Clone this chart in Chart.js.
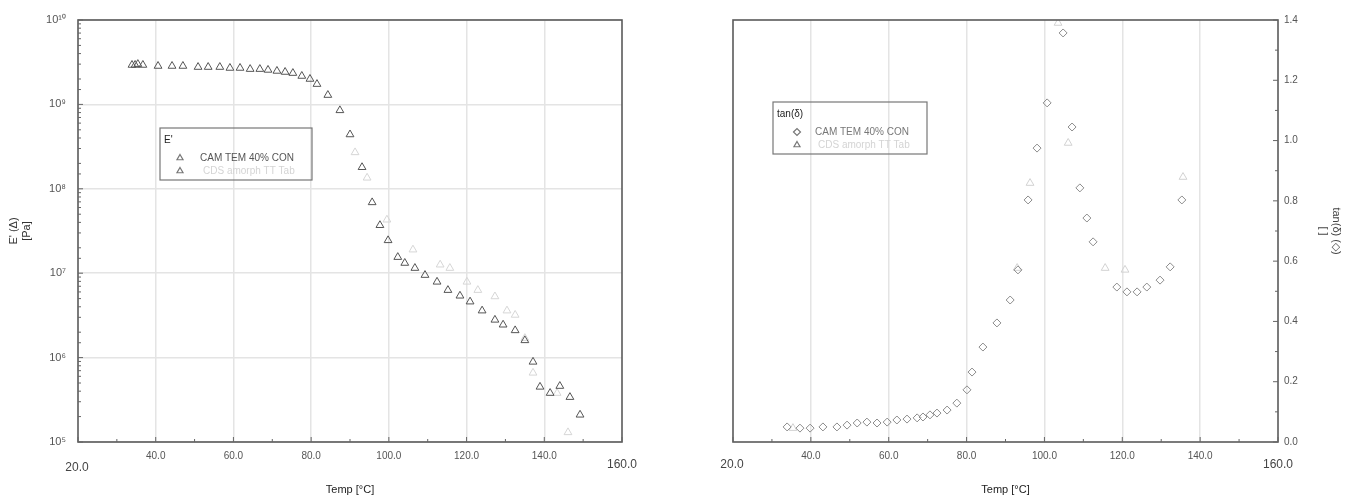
<!DOCTYPE html>
<html lang="en">
<head>
<meta charset="UTF-8">
<title>DMA E' and tan(delta)</title>
<script src="https://cdn.jsdelivr.net/npm/chart.js"></script>
<style>
    body { margin: 0; background: #fff; font-family: 'Liberation Sans', Arial, sans-serif; }
    .panel { position: absolute; top: 0; width: 674px; height: 500px; }
    #leftBox { left: 0; }
    #rightBox { left: 674px; }
</style>
</head>
<body>
<div class="panel" id="leftBox"><canvas id="modulusChart"></canvas></div>
<div class="panel" id="rightBox"><canvas id="tanChart"></canvas></div>

<script>
// storage modulus E' [Pa] vs temperature [°C]
const tempE = [33.9, 34.7, 35.4, 36.7, 40.6, 44.2, 47.0, 50.9, 53.5, 56.5, 59.1, 61.7, 64.3, 66.8, 68.9, 71.2,
    73.3, 75.3, 77.6, 79.7, 81.5, 84.3, 87.4, 90.0, 93.1, 95.7, 97.7, 99.8, 102.3, 104.1, 106.7, 109.3,
    112.4, 115.2, 118.3, 120.9, 124.0, 127.3, 129.4, 132.5, 135.0, 137.1, 138.9, 141.5, 144.0, 146.6, 149.2];
const eMain = [2.93e9, 2.93e9, 3.0e9, 2.93e9, 2.85e9, 2.85e9, 2.85e9, 2.77e9, 2.77e9, 2.77e9, 2.70e9, 2.70e9,
    2.62e9, 2.62e9, 2.56e9, 2.49e9, 2.42e9, 2.35e9, 2.17e9, 2.0e9, 1.74e9, 1.29e9, 8.5e8, 4.4e8,
    1.8e8, 6.9e7, 3.7e7, 2.45e7, 1.55e7, 1.32e7, 1.15e7, 9.5e6, 7.9e6, 6.3e6, 5.4e6, 4.6e6,
    3.6e6, 2.8e6, 2.45e6, 2.1e6, 1.6e6, 8.9e5, 4.5e5, 3.8e5, 4.6e5, 3.4e5, 2.1e5];
const tempE2 = [91.3, 94.4, 99.5, 106.2, 113.2, 115.7, 120.1, 122.9, 127.3, 130.4, 132.5, 135.0, 137.1, 143.3, 146.1];
const eFaint = [2.7e8, 1.35e8, 4.3e7, 1.9e7, 1.26e7, 1.15e7, 7.9e6, 6.3e6, 5.3e6, 3.6e6, 3.2e6, 1.7e6, 6.6e5, 3.8e5, 1.3e5];

// tan(delta) vs temperature
const tempTan = [33.9, 37.2, 39.8, 43.1, 46.7, 49.3, 51.9, 54.4, 57.0, 59.6, 62.1, 64.7, 67.3, 68.8, 70.6,
    72.4, 75.0, 77.5, 80.1, 81.4, 84.2, 87.8, 91.2, 93.2, 95.8, 98.1, 100.7, 104.8, 107.1, 109.1,
    110.9, 112.5, 118.6, 121.2, 123.8, 126.3, 129.7, 132.3, 135.3];
const tanMain = [0.050, 0.046, 0.046, 0.050, 0.050, 0.056, 0.063, 0.066, 0.063, 0.066, 0.073, 0.076, 0.080, 0.083, 0.090,
    0.096, 0.106, 0.129, 0.173, 0.232, 0.315, 0.395, 0.471, 0.571, 0.803, 0.975, 1.125, 1.357, 1.045, 0.843,
    0.743, 0.664, 0.514, 0.498, 0.498, 0.514, 0.537, 0.581, 0.803];
const tempTan2 = [35.4, 93.0, 96.3, 103.5, 106.1, 115.6, 120.7, 135.6];
const tanFaint = [0.046, 0.577, 0.859, 1.39, 0.992, 0.577, 0.571, 0.879];

const seriesName = 'CAM TEM 40% CON';
const faintName = 'CDS amorph TT Tab';
const xEndLabels = ['20.0', '160.0'];

const pts = (xs, ys) => xs.map((x, i) => ({ x, y: ys[i] }));
const SUP = { '0': '\u2070', '1': '\u00b9', '5': '\u2075', '6': '\u2076', '7': '\u2077', '8': '\u2078', '9': '\u2079' };
const isDecade = v => Math.abs(Math.log10(v) - Math.round(Math.log10(v))) < 1e-9;
const FONT = "'Liberation Sans', Arial, sans-serif";

// frame, inward tick marks, end labels and legend box
const decor = {
    id: 'decor',
    afterDraw(chart, args, o) {
        const { ctx, chartArea: a, scales } = chart;
        ctx.save();
        ctx.strokeStyle = '#5a5a5a';
        ctx.lineWidth = 1.6;
        ctx.strokeRect(a.left, a.top, a.right - a.left, a.bottom - a.top);

        ctx.lineWidth = 1;
        ctx.strokeStyle = '#666';
        ctx.beginPath();
        scales.x.ticks.forEach(t => {
            const px = scales.x.getPixelForValue(t.value);
            const len = t.value % 20 === 0 ? 5 : 3;
            ctx.moveTo(px, a.bottom);
            ctx.lineTo(px, a.bottom - len);
        });
        scales.y.ticks.forEach(t => {
            const py = scales.y.getPixelForValue(t.value);
            const major = o.logY ? isDecade(t.value) : Math.round(t.value * 10) % 2 === 0;
            const len = major ? 5 : 3;
            const x0 = o.logY ? a.left : a.right;
            ctx.moveTo(x0, py);
            ctx.lineTo(o.logY ? x0 + len : x0 - len, py);
        });
        ctx.stroke();

        // big end labels of the x axis
        ctx.fillStyle = '#444';
        ctx.font = '12px ' + FONT;
        ctx.textAlign = 'center';
        ctx.textBaseline = 'middle';
        ctx.fillText(xEndLabels[0], scales.x.getPixelForValue(20) - 1, o.endY0);
        ctx.fillText(xEndLabels[1], scales.x.getPixelForValue(160), 465);

        // legend
        const L = o.legend;
        ctx.strokeStyle = '#777';
        ctx.lineWidth = 1.2;
        ctx.strokeRect(L.x, L.y, L.w, L.h);
        ctx.textAlign = 'left';
        ctx.fillStyle = '#222';
        ctx.font = '10px ' + FONT;
        ctx.fillText(L.title, L.x + 4, L.y + 12);
        const mk = chart.data.datasets[0];
        const mk2 = chart.data.datasets[1];
        ctx.fillStyle = 'rgba(0,0,0,0)';
        Chart.helpers.drawPoint(ctx, { pointStyle: mk.pointStyle, radius: 3.5, borderWidth: 1, borderColor: mk.borderColor }, L.x + L.mx, L.y + 30);
        ctx.fillStyle = 'rgba(0,0,0,0)';
        Chart.helpers.drawPoint(ctx, { pointStyle: mk2.pointStyle, radius: 3.5, borderWidth: 1, borderColor: mk2.borderColor }, L.x + L.mx, L.y + 43);
        ctx.font = '10px ' + FONT;
        ctx.fillStyle = o.textColor;
        ctx.fillText(seriesName, L.x + L.tx, L.y + 30);
        ctx.fillStyle = '#d4d4d4';
        ctx.fillText(faintName, L.x + L.tx + 3, L.y + 43);
        ctx.restore();
    }
};

const tickFont = { family: FONT, size: 10 };
const titleFont = { family: FONT, size: 11 };

function xScale() {
    return {
        type: 'linear', min: 20, max: 160,
        afterFit: s => { s.height = 58; },
        ticks: {
            stepSize: 10, autoSkip: false, maxRotation: 0, padding: 8,
            color: '#555', font: tickFont,
            callback: v => (v % 20 === 0 && v > 20 && v < 160) ? v.toFixed(1) : ''
        },
        grid: {
            drawTicks: false,
            lineWidth: 1.5,
            color: c => (c.tick && c.tick.value % 20 === 0 && c.tick.value > 20 && c.tick.value < 160) ? '#e4e4e4' : 'transparent'
        },
        border: { display: false },
        title: { display: true, text: 'Temp [\u00b0C]', color: '#222', font: titleFont, padding: { top: 0, bottom: 3 } }
    };
}

new Chart(document.getElementById('modulusChart'), {
    type: 'scatter',
    data: {
        datasets: [
            { label: seriesName, data: pts(tempE, eMain), pointStyle: 'triangle', pointRadius: 4.5,
              borderColor: '#555', backgroundColor: 'transparent', borderWidth: 1 },
            { label: faintName, data: pts(tempE2, eFaint), pointStyle: 'triangle', pointRadius: 4.5,
              borderColor: '#d6d6d6', backgroundColor: 'transparent', borderWidth: 1 }
        ]
    },
    options: {
        responsive: true, maintainAspectRatio: false, animation: false,
        layout: { padding: { top: 20, right: 52, left: 0, bottom: 0 } },
        plugins: {
            legend: { display: false }, tooltip: { enabled: false },
            decor: { logY: true, endY0: 468, textColor: '#555',
                     legend: { x: 160, y: 128, w: 152, h: 52, title: "E'", mx: 20, tx: 40 } }
        },
        scales: {
            x: xScale(),
            y: {
                type: 'logarithmic', min: 1e5, max: 1e10,
                afterFit: s => { s.width = 78; },
                ticks: {
                    autoSkip: false, padding: 12, color: '#555', font: { family: FONT, size: 11 },
                    callback: v => isDecade(v) ? '10' + String(Math.round(Math.log10(v))).split('').map(d => SUP[d]).join('') : ''
                },
                grid: {
                    drawTicks: false, lineWidth: 1.5,
                    color: c => (c.tick && isDecade(c.tick.value)) ? '#e4e4e4' : 'transparent'
                },
                border: { display: false },
                title: { display: true, text: ["E' (\u0394)", '[Pa]'], color: '#333', font: titleFont, padding: { top: 7, bottom: 0 } }
            }
        }
    },
    plugins: [decor]
});

new Chart(document.getElementById('tanChart'), {
    type: 'scatter',
    data: {
        datasets: [
            { label: seriesName, data: pts(tempTan, tanMain), pointStyle: 'rectRot', pointRadius: 4,
              borderColor: '#8c8c8c', backgroundColor: 'transparent', borderWidth: 1 },
            { label: faintName, data: pts(tempTan2, tanFaint), pointStyle: 'triangle', pointRadius: 4.5,
              borderColor: '#d2d2d2', backgroundColor: 'transparent', borderWidth: 1 }
        ]
    },
    options: {
        responsive: true, maintainAspectRatio: false, animation: false,
        layout: { padding: { top: 20, right: 0, left: 59, bottom: 0 } },
        plugins: {
            legend: { display: false }, tooltip: { enabled: false },
            decor: { logY: false, endY0: 465, textColor: '#777',
                     legend: { x: 773 - 674, y: 102, w: 154, h: 52, title: 'tan(\u03b4)', mx: 24, tx: 42 } }
        },
        scales: {
            x: xScale(),
            y: {
                type: 'linear', position: 'right', min: 0, max: 1.4,
                afterFit: s => { s.width = 70; },
                ticks: {
                    stepSize: 0.1, autoSkip: false, padding: 6, color: '#555', font: tickFont,
                    callback: v => Math.round(v * 10) % 2 === 0 ? v.toFixed(1) : ''
                },
                grid: { drawTicks: false, color: 'transparent' },
                border: { display: false },
                title: { display: true, text: ['tan(\u03b4) (\u25c7)', '[ ]'], color: '#444', font: titleFont, padding: { top: 5, bottom: 0 } }
            }
        }
    },
    plugins: [decor]
});
</script>
</body>
</html>
